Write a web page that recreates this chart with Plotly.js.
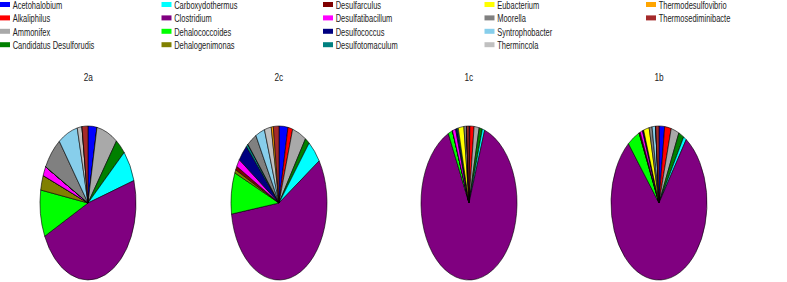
<!DOCTYPE html>
<html>
<head>
<meta charset="utf-8">
<script src="https://cdn.plot.ly/plotly-3.0.1.min.js"></script>
<style>
html, body { margin: 0; padding: 0; background: #fff; overflow: hidden; }
#chart { width: 830px; height: 282px; }
</style>
</head>
<body>
<div id="chart"></div>
<script>
// ---- data ----
const genera = ["Acetohalobium", "Alkaliphilus", "Ammonifex", "Candidatus Desulforudis",
  "Carboxydothermus", "Clostridium", "Dehalococcoides", "Dehalogenimonas", "Desulfarculus",
  "Desulfatibacillum", "Desulfococcus", "Desulfotomaculum", "Eubacterium", "Moorella",
  "Syntrophobacter", "Thermincola", "Thermodesulfovibrio", "Thermosediminibacte"];
const generaColors = ["#0000FF", "#FF0000", "#A9A9A9", "#008000", "#00FFFF", "#800080",
  "#00FF00", "#808000", "#800000", "#FF00FF", "#000080", "#008080", "#FFFF00", "#808080",
  "#87CEEB", "#C0C0C0", "#FFA500", "#A52A2A"];
const samples = ["2a", "2c", "1c", "1b"];
const values2a = [3.0, 0, 7.1, 3.5, 6.7, 47.6, 9.8, 3.1, 0, 2.0, 0, 0, 0, 7.0, 6.6, 1.6, 0, 2.0];
const values2c = [3.0, 1.6, 4.7, 1.5, 5.0, 56.9, 8.7, 0.7, 0.8, 1.6, 3.6, 0.7, 0, 3.2, 3.1, 2.3, 0.7, 1.9];
const values1c = [0.3, 1.4, 1.7, 1.1, 0.8, 87.6, 1.5, 0, 0, 1.1, 0.5, 0.4, 1.9, 0.9, 0, 0, 0, 0.8];
const values1b = [1.9, 2.2, 2.7, 1.8, 1.0, 79.4, 4.2, 0, 0.4, 0.8, 0.4, 0, 1.9, 1.0, 1.2, 0, 0, 1.1];
const legendRows = [
  ["Acetohalobium", "Carboxydothermus", "Desulfarculus", "Eubacterium", "Thermodesulfovibrio"],
  ["Alkaliphilus", "Clostridium", "Desulfatibacillum", "Moorella", "Thermosediminibacte"],
  ["Ammonifex", "Dehalococcoides", "Desulfococcus", "Syntrophobacter"],
  ["Candidatus Desulforudis", "Dehalogenimonas", "Desulfotomaculum", "Thermincola"]
];

// ---- layout constants ----
const W = 830, H = 282;
const FONT = "'Liberation Sans', Arial, sans-serif";
const TEXT_CONDENSE = 0.75;
const pieCentersPx = [88, 279, 469, 659];
const pieCy = 203, pieR = 48, pieRy = 77;
const titleY = 76.7;
const legendTextX0 = 12.7, legendColStep = 161.5, legendRowY0 = 5, legendRowStep = 13.4;

const sampleValues = [values2a, values2c, values1c, values1b];
const colorOf = {};
genera.forEach((g, i) => colorOf[g] = generaColors[i]);
const legendOrder = [].concat(...legendRows);

const data = [];
// legend-order carrier (drawn outside the visible window)
data.push({
  type: 'pie', name: 'legend', labels: legendOrder, values: legendOrder.map(() => 1),
  marker: { colors: legendOrder.map(l => colorOf[l]), line: { width: 0 } },
  sort: false, textinfo: 'none', hoverinfo: 'skip',
  domain: { x: [0.994, 1], y: [0, 0.02] }
});
samples.forEach((s, i) => {
  const cx = pieCentersPx[i];
  data.push({
    type: 'pie', name: s, labels: genera, values: sampleValues[i],
    marker: { colors: generaColors, line: { color: '#000000', width: 0.6 } },
    sort: false, direction: 'clockwise', rotation: 0,
    textinfo: 'none',
    domain: { x: [(cx - pieR) / W, (cx + pieR) / W], y: [1 - (pieCy + pieR) / H, 1 - (pieCy - pieR) / H] }
  });
});

const layout = {
  width: W, height: H,
  margin: { l: 0, r: 0, t: 0, b: 0, autoexpand: false },
  paper_bgcolor: '#ffffff',
  font: { family: FONT, size: 10, color: '#222222' },
  showlegend: true,
  legend: {
    orientation: 'h', x: 0, xanchor: 'left', y: 1, yanchor: 'top',
    entrywidth: legendColStep - 45, entrywidthmode: 'pixels',
    font: { family: FONT, size: 10, color: '#222222' },
    bgcolor: 'rgba(0,0,0,0)', borderwidth: 0, traceorder: 'normal'
  },
  annotations: samples.map((s, i) => ({
    text: s, xref: 'paper', yref: 'paper', x: pieCentersPx[i] / W, y: 1 - titleY / H,
    xanchor: 'center', yanchor: 'middle', showarrow: false,
    font: { family: FONT, size: 11, color: '#222222' }
  }))
};

function parseT(el) {
  const t = el && el.getAttribute('transform');
  const m = t && t.match(/translate\(\s*([-\d.e]+)[\s,]+([-\d.e]+)/);
  return m ? { x: parseFloat(m[1]), y: parseFloat(m[2]) } : { x: 0, y: 0 };
}
function condense(textEl, cx) {
  textEl.setAttribute('transform',
    'translate(' + cx + ',0) scale(' + TEXT_CONDENSE + ',1) translate(' + (-cx) + ',0)');
}

const gd = document.getElementById('chart');
Plotly.newPlot(gd, data, layout, { staticPlot: true, displayModeBar: false }).then(() => {
  // vertical stretch of each pie to the elliptical look of the reference
  gd.querySelectorAll('.pielayer .trace').forEach(g => {
    const cd = g.__data__;
    const cd0 = cd && cd[0];
    if (!cd0 || cd0.trace.name === 'legend') return;
    const k = pieRy / cd0.r;
    g.setAttribute('transform', 'translate(0,' + (cd0.cy * (1 - k)) + ') scale(1,' + k + ')');
    g.querySelectorAll('path').forEach(p => { p.style.vectorEffect = 'non-scaling-stroke'; });
  });
  // legend grid: 5 columns, compact rows, condensed text
  const leg = gd.querySelector('g.legend');
  const lt = parseT(leg);
  const sb = parseT(gd.querySelector('g.legend g.scrollbox'));
  gd.querySelectorAll('g.legend g.traces').forEach(item => {
    const d = item.__data__;
    const label = d && d[0] && d[0].label;
    let row = -1, col = -1;
    legendRows.forEach((r, ri) => { const ci = r.indexOf(label); if (ci >= 0) { row = ri; col = ci; } });
    if (row < 0) return;
    const txt = item.querySelector('text.legendtext');
    const tx = txt ? (parseFloat(txt.getAttribute('x')) || 40) : 40;
    if (txt) condense(txt, tx);
    const x = legendTextX0 + col * legendColStep - tx - lt.x - sb.x;
    const y = legendRowY0 + row * legendRowStep - lt.y - sb.y;
    item.setAttribute('transform', 'translate(' + x + ',' + y + ')');
    const sym = item.querySelector('path.legendpie');
    if (sym) {
      sym.setAttribute('d', 'M-5,-3H5V2H-5Z');
      sym.setAttribute('transform', 'translate(' + (tx - 7.7) + ',0)');
      sym.style.strokeWidth = '0px';
    }
  });
  // condensed panel titles
  gd.querySelectorAll('text.annotation-text').forEach(t => {
    const bb = t.getBBox();
    condense(t, bb.x + bb.width / 2);
  });
});
</script>
</body>
</html>
